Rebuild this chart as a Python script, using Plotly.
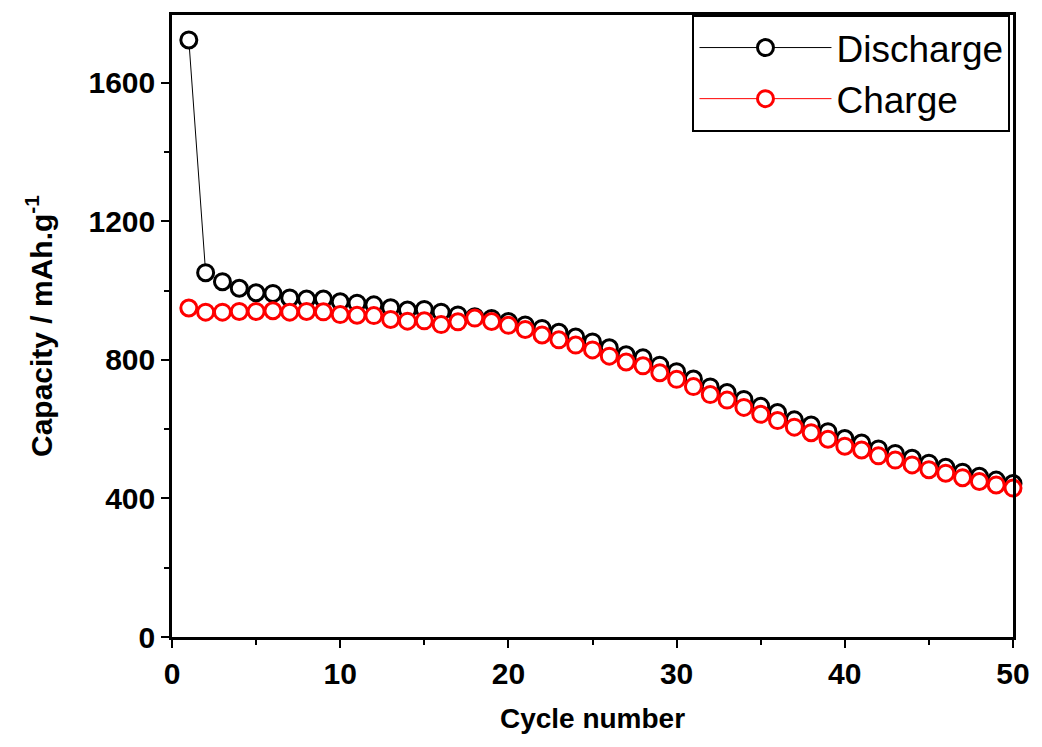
import plotly.graph_objects as go

cycles = list(range(1, 51))

discharge = [1724, 1052, 1026, 1007, 994, 992, 979, 976, 976, 968,
             964, 959, 951, 944, 946, 938, 930, 925, 920, 911,
             901, 891, 880, 866, 852, 835, 815, 806, 785, 766,
             745, 722, 706, 686, 666, 648, 627, 612, 593, 573,
             560, 543, 530, 516, 502, 490, 476, 464, 453, 443]

charge = [950, 938, 938, 940, 940, 942, 938, 940, 939, 931,
          929, 928, 917, 912, 913, 902, 910, 921, 911, 900,
          888, 872, 858, 843, 829, 811, 794, 783, 763, 744,
          723, 700, 684, 663, 643, 625, 606, 590, 571, 551,
          540, 523, 511, 497, 483, 473, 460, 449, 439, 430]

x_ticks = [0, 10, 20, 30, 40, 50]
y_ticks = [0, 400, 800, 1200, 1600]

FONT = "Liberation Sans, Arial, sans-serif"

fig = go.Figure()
fig.add_trace(go.Scatter(
    x=cycles, y=discharge, name="Discharge", mode="lines+markers",
    line=dict(color="black", width=1),
    marker=dict(symbol="circle", size=16, color="white",
                line=dict(color="black", width=3)),
    cliponaxis=False,
))
fig.add_trace(go.Scatter(
    x=cycles, y=charge, name="Charge", mode="lines+markers",
    line=dict(color="red", width=1),
    marker=dict(symbol="circle", size=16, color="white",
                line=dict(color="red", width=3)),
    cliponaxis=False,
))

axis_common = dict(
    showline=True, linecolor="black", linewidth=2.5, mirror=True,
    showgrid=False, zeroline=False,
    ticks="outside", ticklen=8, tickwidth=2, tickcolor="black",
    tickfont=dict(family=FONT, size=30, color="black", weight="bold"),
)

fig.update_xaxes(
    range=[0, 50], tickvals=x_ticks, ticktext=[str(v) for v in x_ticks],
    minor=dict(dtick=5, ticks="outside", ticklen=5, tickwidth=2, tickcolor="black", showgrid=False),
    title=dict(text="<b>Cycle number</b>", font=dict(family=FONT, size=28, color="black"), standoff=20),
    **axis_common,
)
fig.update_yaxes(
    range=[0, 1796], tickvals=y_ticks, ticktext=[str(v) for v in y_ticks],
    minor=dict(dtick=200, ticks="outside", ticklen=5, tickwidth=2, tickcolor="black", showgrid=False),
    title=dict(text="<b>Capacity / mAh.g<sup>-1</sup></b>", font=dict(family=FONT, size=30, color="black"), standoff=28),
    **axis_common,
)

fig.update_layout(
    width=1042, height=747,
    margin=dict(l=172, r=19, t=15, b=110),
    paper_bgcolor="white", plot_bgcolor="white",
    showlegend=True,
    legend=dict(
        x=0.997, y=1.0, xanchor="right", yanchor="top",
        bordercolor="black", borderwidth=2, bgcolor="white",
        font=dict(family=FONT, size=37, color="black"),
        itemwidth=132, tracegroupgap=0,
    ),
)

fig.write_html("out.html")
